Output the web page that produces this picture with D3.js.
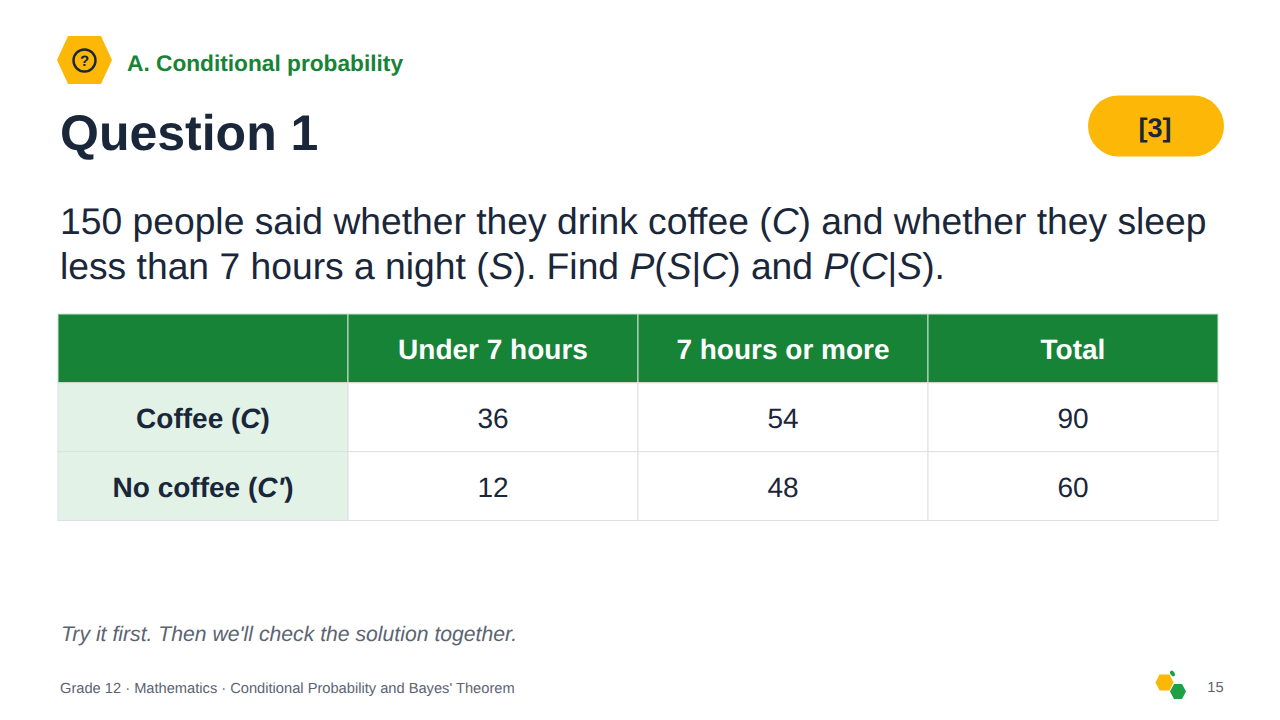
<!DOCTYPE html>
<html lang="en">
  <head>
    <meta charset="UTF-8" />
    <title>Question 1</title>
    <script src="https://d3js.org/d3.v7.min.js"></script>
    <style>
      html, body { margin: 0; padding: 0; background: #fff; }
      svg { display: block; font-family: "Liberation Sans", sans-serif; text-rendering: geometricPrecision; }
    </style>
  </head>
  <body>
    <svg id="slide" width="1280" height="720"></svg>
    <script>
      // *word* means italic
      const section = "A. Conditional probability";
      const title = "Question 1";
      const marks = "[3]";
      const promptLines = [
        "150 people said whether they drink coffee (*C*) and whether they sleep",
        "less than 7 hours a night (*S*). Find *P*(*S*|*C*) and *P*(*C*|*S*).",
      ];
      const columns = ["", "Under 7 hours", "7 hours or more", "Total"];
      const rowLabels = ["Coffee (*C*)", "No coffee (*C'*)"];
      const under7 = [36, 12];
      const over7 = [54, 48];
      const totals = [90, 60];
      const note = "Try it first. Then we'll check the solution together.";
      const footer = "Grade 12 · Mathematics · Conditional Probability and Bayes' Theorem";
      const pageNo = "15";

      const navy = "#1a2639";
      const green = "#178337";
      const yellow = "#fdb707";
      const grey = "#5b6472";
      const line = "#dcdfe3";

      const svg = d3.select("#slide");

      function rich(sel, str) {
        str.split("*").forEach((part, i) => {
          if (part) sel.append("tspan").attr("font-style", i % 2 ? "italic" : null).text(part);
        });
        return sel;
      }

      function text(x, y, str, size, fill, opts = {}) {
        const t = svg
          .append("text")
          .attr("x", x)
          .attr("y", y)
          .attr("font-size", size)
          .attr("fill", fill)
          .attr("font-weight", opts.weight || null)
          .attr("font-style", opts.style || null)
          .attr("text-anchor", opts.anchor || null);
        return rich(t, str);
      }

      function hexagon(cx, cy, rx, ry, inset, fill) {
        svg
          .append("path")
          .attr("d", d3.line()([
            [cx - rx, cy],
            [cx - rx + inset, cy - ry],
            [cx + rx - inset, cy - ry],
            [cx + rx, cy],
            [cx + rx - inset, cy + ry],
            [cx - rx + inset, cy + ry],
          ]) + "Z")
          .attr("fill", fill);
      }

      // header
      hexagon(84.5, 60, 27.5, 24, 11, yellow);
      svg.append("circle").attr("cx", 84.5).attr("cy", 60.5).attr("r", 11).attr("fill", "none").attr("stroke", navy).attr("stroke-width", 2.4);
      text(84.5, 66, "?", 15, navy, { weight: "bold", anchor: "middle" });
      text(127, 71, section, 22.7, green, { weight: "bold" });
      text(60, 150, title, 50, navy, { weight: "bold" });

      svg.append("rect").attr("x", 1088).attr("y", 95.5).attr("width", 136).attr("height", 61).attr("rx", 30.5).attr("fill", yellow);
      text(1155, 137, marks, 27, navy, { weight: "bold", anchor: "middle" });

      // question text
      promptLines.forEach((l, i) => text(60, 234 + i * 45, l, 37.25, navy));

      // table
      const tableRows = [columns, ...rowLabels.map((r, i) => [r, under7[i], over7[i], totals[i]])];
      const x = d3.scaleBand().domain(d3.range(columns.length)).range([58, 1218]);
      const y = d3.scaleBand().domain(d3.range(tableRows.length)).range([314, 520.5]);
      const cells = tableRows.flatMap((row, r) => row.map((value, c) => ({ value: String(value), r, c })));

      svg
        .append("g")
        .selectAll("rect")
        .data(cells)
        .join("rect")
        .attr("x", (d) => x(d.c))
        .attr("y", (d) => y(d.r))
        .attr("width", x.bandwidth())
        .attr("height", y.bandwidth())
        .attr("fill", (d) => (d.r === 0 ? green : d.c === 0 ? "#e3f2e7" : "#fff"))
        .attr("stroke", (d) => (d.r === 0 ? "#cfe0d4" : line))
        .attr("stroke-width", 1);

      cells.forEach((d) => {
        const head = d.r === 0 || d.c === 0;
        text(x(d.c) + x.bandwidth() / 2, y(d.r) + y.bandwidth() / 2 + 10.7, d.value, 28, d.r === 0 ? "#fff" : navy, {
          weight: head ? "bold" : null,
          anchor: "middle",
        });
      });

      // bottom
      text(61, 641, note, 21.2, grey, { style: "italic" });
      text(60, 693, footer, 14.67, grey);
      text(1215.5, 692, pageNo, 14.67, grey, { anchor: "middle" });

      // small logo
      hexagon(1164.5, 682.5, 9, 8, 4, yellow);
      hexagon(1178, 691.5, 8, 7.5, 4, "#1fa046");
      svg.append("ellipse").attr("cx", 1172.5).attr("cy", 673.5).attr("rx", 2).attr("ry", 3.2).attr("transform", "rotate(-35 1172.5 673.5)").attr("fill", "#1fa046");
    </script>
  </body>
</html>
